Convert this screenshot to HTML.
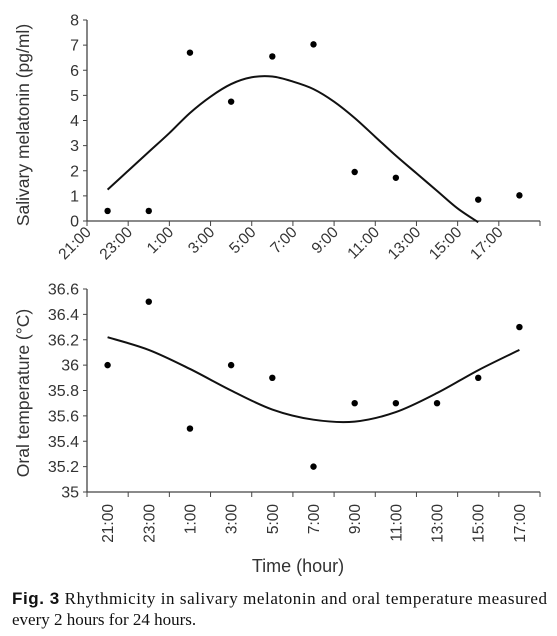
<!DOCTYPE html>
<html><head><meta charset="utf-8"><style>
body{margin:0;background:#fff;}
svg{display:block;}
text{font-family:"Liberation Sans",Arial,sans-serif;fill:#333;}
.cap{font-family:"Liberation Serif",serif;fill:#111;font-size:17px;}
</style></head><body>
<svg id="fig" width="557" height="636" viewBox="0 0 557 636" xmlns="http://www.w3.org/2000/svg">
<g id="topChart"></g>
<g id="botChart"></g>
<text x="298" y="572" text-anchor="middle" font-size="18">Time (hour)</text>
<text x="12" y="604" class="cap" textLength="535" lengthAdjust="spacing"><tspan font-family="Liberation Sans" font-weight="bold" fill="#111">Fig. 3</tspan> Rhythmicity in salivary melatonin and oral temperature measured</text>
<text x="12" y="625" class="cap">every 2 hours for 24 hours.</text>
</svg>
<script>
// Top chart data (hours since 0:00 of first day, 24+ = next day)
const melHours=[22,24,26,28,30,32,34,36,40,42];
const melValues=[0.4,0.4,6.7,4.75,6.55,7.03,1.95,1.72,0.85,1.02];
const melCurveHours=[22,23,24,25,26,27,28,29,30,31,32,33,34,35,36,37,38,39,40];
const melCurveValues=[1.25,2.0,2.75,3.5,4.3,4.95,5.45,5.72,5.75,5.55,5.25,4.75,4.1,3.35,2.6,1.9,1.2,0.5,-0.05];
const melYTicks=[0,1,2,3,4,5,6,7,8];
const timeLabels=["21:00","23:00","1:00","3:00","5:00","7:00","9:00","11:00","13:00","15:00","17:00"];
// Bottom chart data
const tempValues=[36.0,36.5,35.5,36.0,35.9,35.2,35.7,35.7,35.7,35.9,36.3];
const tempCurve=[36.22,36.12,35.97,35.8,35.65,35.57,35.555,35.63,35.78,35.96,36.12];
const tempYTicks=["35","35.2","35.4","35.6","35.8","36","36.2","36.4","36.6"];

const NS="http://www.w3.org/2000/svg";
function mk(parent,tag,attrs,txt){const e=document.createElementNS(NS,tag);for(const k in attrs)e.setAttribute(k,attrs[k]);if(txt!==undefined)e.textContent=txt;parent.appendChild(e);return e;}
function smooth(pts){
  let d=`M${pts[0][0]} ${pts[0][1]}`;
  for(let i=0;i<pts.length-1;i++){
    const p0=pts[i-1]||pts[i],p1=pts[i],p2=pts[i+1],p3=pts[i+2]||p2;
    const c1x=p1[0]+(p2[0]-p0[0])/6,c1y=p1[1]+(p2[1]-p0[1])/6;
    const c2x=p2[0]-(p3[0]-p1[0])/6,c2y=p2[1]-(p3[1]-p1[1])/6;
    d+=`C${c1x} ${c1y} ${c2x} ${c2y} ${p2[0]} ${p2[1]}`;
  }
  return d;
}
const X0=87,X1=540;
const hx=h=>X0+(h-21)*(X1-X0)/22;
const slot=(X1-X0)/11;

// ---- top
const topG=document.getElementById('topChart');
const yT=v=>221-v*(221-20)/8;
let ax=mk(topG,'path',{d:`M${X0} ${yT(8)}V${yT(0)}H${X1}`,stroke:'#444','stroke-width':1.3,fill:'none'});


melYTicks.forEach(v=>{
  const t=mk(topG,'line',{x1:X0-4,x2:X0,y1:yT(v),y2:yT(v),stroke:'#444'});
  
  
  const l=mk(topG,'text',{x:X0-8,y:yT(v)+5.5,'text-anchor':'end','font-size':16},String(v));
  
  
});
for(let i=0;i<=11;i++){
  const x=X0+i*slot;
  const t=mk(topG,'line',{x1:x,x2:x,y1:yT(0),y2:yT(0)+5,stroke:'#444'});
  
  
}
timeLabels.forEach((s,i)=>{
  const x=X0+i*slot+5,y=yT(0)+12;
  const l=mk(topG,'text',{x:x,y:y,'text-anchor':'end','font-size':15.5,transform:`rotate(-45 ${x} ${y})`},s);
  
  
});
let ttl=mk(topG,'text',{x:0,y:0,'text-anchor':'middle','font-size':17.5,transform:`translate(29 125) rotate(-90)`},'Salivary melatonin (pg/ml)');


let c=mk(topG,'path',{d:smooth(melCurveHours.map((h,i)=>[hx(h),yT(melCurveValues[i])])),fill:'none',stroke:'#111','stroke-width':2});


melHours.forEach((h,i)=>{
  const p=mk(topG,'circle',{cx:hx(h),cy:yT(melValues[i]),r:3.2,fill:'#000'});
  
  
});

// ---- bottom
const botG=document.getElementById('botChart');
const yB=v=>492-(v-35)*(492-289)/1.6;
ax=mk(botG,'path',{d:`M${X0} ${yB(36.6)}V${yB(35)}H${X1}`,stroke:'#444','stroke-width':1.3,fill:'none'});


tempYTicks.forEach(s=>{
  const v=parseFloat(s);
  const t=mk(botG,'line',{x1:X0-4,x2:X0,y1:yB(v),y2:yB(v),stroke:'#444'});
  
  
  const l=mk(botG,'text',{x:X0-8,y:yB(v)+5.5,'text-anchor':'end','font-size':16},s);
  
  
});
for(let i=0;i<=11;i++){
  const x=X0+i*slot;
  const t=mk(botG,'line',{x1:x,x2:x,y1:yB(35),y2:yB(35)+5,stroke:'#444'});
  
  
}
const cx=i=>X0+(i+0.5)*slot;
timeLabels.forEach((s,i)=>{
  const x=cx(i)+5.5,y=504;
  const l=mk(botG,'text',{x:x,y:y,'text-anchor':'end','font-size':15.5,transform:`rotate(-90 ${x} ${y})`},s);
  
  
});
ttl=mk(botG,'text',{x:0,y:0,'text-anchor':'middle','font-size':17.5,transform:`translate(29 393) rotate(-90)`},'Oral temperature (°C)');


c=mk(botG,'path',{d:smooth(tempCurve.map((v,i)=>[cx(i),yB(v)])),fill:'none',stroke:'#111','stroke-width':2});


tempValues.forEach((v,i)=>{
  const p=mk(botG,'circle',{cx:cx(i),cy:yB(v),r:3.2,fill:'#000'});
  
  
});
</script>
</body></html>
